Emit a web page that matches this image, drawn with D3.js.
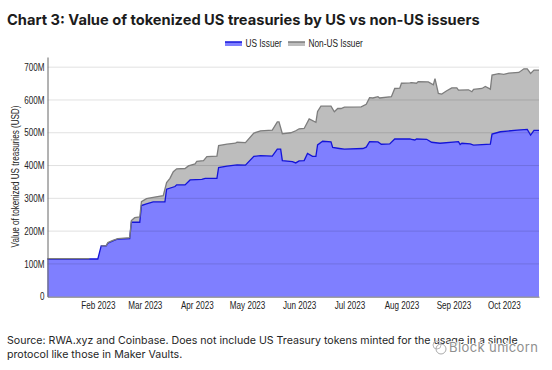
<!DOCTYPE html>
<html><head><meta charset="utf-8">
<script src="https://cdn.jsdelivr.net/npm/d3@7/dist/d3.min.js"></script>
<style>html,body{margin:0;padding:0;background:#fff}svg{display:block}</style>
</head><body><svg id="c" width="552" height="370"></svg>
<script>
const usIssuer = [["2023-01-02",115],["2023-01-27",115],["2023-02-01",115],["2023-02-03",155],["2023-02-06",155],["2023-02-07",163],["2023-02-10",170],["2023-02-13",176],["2023-02-20",177],["2023-02-21",227],["2023-02-26",227],["2023-02-27",278],["2023-03-02",283],["2023-03-06",289],["2023-03-13",289],["2023-03-14",328],["2023-03-19",336],["2023-03-20",341],["2023-03-25",341],["2023-03-28",356],["2023-04-04",358],["2023-04-06",361],["2023-04-13",361],["2023-04-14",394],["2023-04-19",398],["2023-04-25",402],["2023-04-30",401],["2023-05-05",428],["2023-05-09",430],["2023-05-16",429],["2023-05-19",450],["2023-05-21",450],["2023-05-22",415],["2023-05-28",412],["2023-05-30",408],["2023-06-01",414],["2023-06-04",415],["2023-06-06",437],["2023-06-09",428],["2023-06-11",428],["2023-06-12",463],["2023-06-15",474],["2023-06-20",472],["2023-06-21",455],["2023-06-25",452],["2023-06-28",450],["2023-07-09",452],["2023-07-11",456],["2023-07-13",473],["2023-07-18",472],["2023-07-20",465],["2023-07-25",466],["2023-07-28",481],["2023-08-06",481],["2023-08-07",480],["2023-08-09",478],["2023-08-10",481],["2023-08-16",480],["2023-08-19",471],["2023-08-24",468],["2023-09-04",473],["2023-09-05",464],["2023-09-06",468],["2023-09-11",466],["2023-09-13",462],["2023-09-23",465],["2023-09-24",496],["2023-09-29",503],["2023-10-09",508],["2023-10-15",510],["2023-10-17",493],["2023-10-19",507],["2023-10-22",507]];
const usPlusNonUs = [["2023-01-02",116],["2023-01-27",116],["2023-02-01",116],["2023-02-03",155],["2023-02-06",156],["2023-02-07",165],["2023-02-10",172],["2023-02-13",177],["2023-02-20",180],["2023-02-21",232],["2023-02-23",241],["2023-02-26",243],["2023-02-27",290],["2023-03-02",299],["2023-03-06",303],["2023-03-12",308],["2023-03-14",348],["2023-03-16",361],["2023-03-18",381],["2023-03-20",390],["2023-03-25",391],["2023-03-27",399],["2023-03-31",405],["2023-04-01",413],["2023-04-05",415],["2023-04-07",427],["2023-04-13",429],["2023-04-14",461],["2023-04-19",465],["2023-04-24",468],["2023-04-25",471],["2023-04-30",470],["2023-05-05",499],["2023-05-09",506],["2023-05-16",508],["2023-05-19",533],["2023-05-20",533],["2023-05-22",497],["2023-05-27",500],["2023-05-30",506],["2023-06-01",512],["2023-06-04",513],["2023-06-07",542],["2023-06-11",532],["2023-06-12",565],["2023-06-14",581],["2023-06-20",581],["2023-06-22",564],["2023-06-24",574],["2023-06-26",574],["2023-06-28",578],["2023-07-08",579],["2023-07-11",587],["2023-07-13",607],["2023-07-15",606],["2023-07-18",610],["2023-07-19",606],["2023-07-26",610],["2023-07-28",635],["2023-07-31",636],["2023-08-01",651],["2023-08-06",652],["2023-08-07",653],["2023-08-10",651],["2023-08-11",656],["2023-08-17",655],["2023-08-20",646],["2023-08-21",665],["2023-08-23",620],["2023-08-25",618],["2023-08-28",628],["2023-08-31",637],["2023-09-03",637],["2023-09-04",630],["2023-09-10",631],["2023-09-12",625],["2023-09-13",632],["2023-09-18",635],["2023-09-20",641],["2023-09-23",633],["2023-09-24",676],["2023-09-28",680],["2023-10-01",678],["2023-10-04",682],["2023-10-10",684],["2023-10-13",695],["2023-10-15",695],["2023-10-17",681],["2023-10-19",691],["2023-10-22",691]];
const yTicks = [0,100,200,300,400,500,600,700];
const xTickDates = ["2023-02-01","2023-03-01","2023-04-01","2023-05-01","2023-06-01","2023-07-01","2023-08-01","2023-09-01","2023-10-01"];
const legendNames = ["US Issuer","Non-US Issuer"];
const titleText = "Chart 3: Value of tokenized US treasuries by US vs non-US issuers";
const yTitle = "Value of tokenized US treasuries (USD)";
const sourceLines = ["Source: RWA.xyz and Coinbase. Does not include US Treasury tokens minted for the usage in a single","protocol like those in Maker Vaults."];

const parse = d3.utcParse("%Y-%m-%d");
const svg = d3.select("#c");
const chartFont = "'Liberation Sans',Arial,sans-serif";
const squeeze = 0.81;
const x = d3.scaleUtc().domain([parse("2023-01-02"),parse("2023-10-22")]).range([47.5,539]);
const y = d3.scaleLinear().domain([0,731]).range([296.7,57]);

svg.append("text").attr("x",7).attr("y",25).attr("font-family","Inter,sans-serif").attr("font-weight",700).attr("font-size",14.65).attr("fill","#1c1c1c").text(titleText);

const area = d3.area().x(d=>x(parse(d[0]))).y0(y(0)).y1(d=>y(d[1]));
const line = d3.line().x(d=>x(parse(d[0]))).y(d=>y(d[1]));
svg.append("path").datum(usPlusNonUs).attr("d",area).attr("fill","#bdbdbd");
svg.append("path").datum(usIssuer).attr("d",area).attr("fill","#7f7fff");

svg.append("g").selectAll("line").data(yTicks.slice(1)).join("line")
  .attr("x1",x.range()[0]).attr("x2",x.range()[1]).attr("y1",d=>y(d)).attr("y2",d=>y(d))
  .attr("stroke","#000").attr("stroke-opacity",0.12).attr("stroke-width",1);

svg.append("path").datum(usIssuer).attr("d",line).attr("fill","none").attr("stroke","#1414d8").attr("stroke-width",1.3);
svg.append("path").datum(usPlusNonUs).attr("d",line.defined(d=>d[0]!=="2023-02-01")).attr("fill","none").attr("stroke","#7d7d7d").attr("stroke-width",1.3);

const yAxis = svg.append("g").attr("transform",`translate(${x.range()[0]},0)`)
  .call(d3.axisLeft(y).tickValues(yTicks).tickSize(0).tickPadding(3).tickFormat(d=>d===0?"0":d+"M"));
yAxis.select(".domain").attr("stroke","#666").attr("stroke-width",1);
const xAxis = svg.append("g").attr("transform",`translate(0,${y(0)})`)
  .call(d3.axisBottom(x).tickValues(xTickDates.map(parse)).tickSize(0).tickPadding(5).tickFormat(d3.utcFormat("%b %Y")));
xAxis.select(".domain").attr("stroke","#777").attr("stroke-width",1);
svg.selectAll(".tick text").attr("font-family",chartFont).attr("font-size",10).attr("fill","#222")
  .attr("transform",`scale(${squeeze},1)`)
  .attr("x",function(){return +d3.select(this).attr("x")/squeeze;});

svg.append("text").attr("transform",`translate(18.5,176.5) rotate(-90) scale(${squeeze},1)`).attr("text-anchor","middle")
  .attr("font-family",chartFont).attr("font-size",10).attr("fill","#222").text(yTitle);

const legendX = d3.scaleOrdinal().domain(legendNames).range([225,288]);
const legendFill = d3.scaleOrdinal().domain(legendNames).range(["#7f7fff","#bdbdbd"]);
const legendStroke = d3.scaleOrdinal().domain(legendNames).range(["#1414d8","#7d7d7d"]);
const lg = svg.append("g").selectAll("g").data(legendNames).join("g").attr("transform",d=>`translate(${legendX(d)},42)`);
lg.append("rect").attr("width",17).attr("height",4).attr("fill",d=>legendFill(d));
lg.append("line").attr("x2",17).attr("stroke",d=>legendStroke(d)).attr("stroke-width",1.5);
lg.append("text").attr("transform",`translate(20.5,5) scale(0.83,1)`).attr("font-family",chartFont).attr("font-size",10).attr("fill","#222").text(d=>d);

svg.append("g").selectAll("text").data(sourceLines).join("text").attr("x",7).attr("y",(d,i)=>344+i*14)
  .attr("font-family","Inter,sans-serif").attr("font-size",10.63).attr("fill","#262626").text(d=>d);

const wm = svg.append("g");
wm.append("circle").attr("cx",437).attr("cy",345).attr("r",4).attr("fill","none").attr("stroke","#bbb");
wm.append("circle").attr("cx",441).attr("cy",349).attr("r",5).attr("fill","none").attr("stroke","#aaa");
wm.append("text").attr("x",449).attr("y",352).attr("font-family","Inter,sans-serif").attr("font-size",13).attr("letter-spacing",0.4)
  .attr("fill","#8f8f8f").attr("stroke","#fff").attr("stroke-width",1.5).attr("paint-order","stroke").text("Block unicorn");
</script></body></html>
